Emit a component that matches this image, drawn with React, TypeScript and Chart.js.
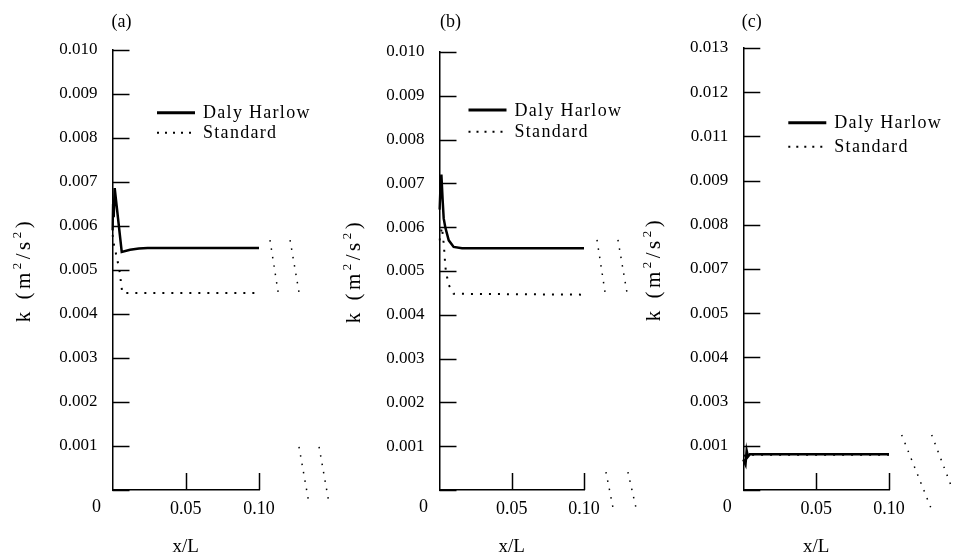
import React, { useEffect, useRef } from 'react';
import { Chart, registerables } from 'chart.js';

Chart.register(...registerables);

// ---------- data ----------
const SERIES_NAMES = ['Daly Harlow', 'Standard'];
const PANEL_NAMES = ['(a)', '(b)', '(c)'];
const ORIGIN_LABEL = '0';
// y-axis title "k (m²/s²)" split into normal / superscript runs
const Y_TITLE_PARTS: [string, boolean][] = [['k (m', false], ['2', true], ['/s', false], ['2', true], [')', false]];
const X_TITLE = 'x/L';

const X_TICK_LABELS = ['', '0.05', '0.10'];
const AB_Y_LABELS = ['', '0.001', '0.002', '0.003', '0.004', '0.005', '0.006', '0.007', '0.008', '0.009', '0.010'];
const C_Y_LABELS = ['', '0.001', '0.003', '0.004', '0.005', '0.007', '0.008', '0.009', '0.011', '0.012', '0.013'];
const AB_Y_MAX = 0.01;
const C_Y_MAX = 0.013;

// panel (a)
const A_DH_X = [0, 0.0004, 0.0008, 0.0015, 0.0063, 0.012, 0.018, 0.024, 0.1];
const A_DH_Y = [0.0059, 0.0065, 0.0062, 0.00686, 0.00541, 0.00546, 0.00549, 0.0055, 0.0055];
const A_ST_X = [0, 0.0012, 0.0029, 0.004, 0.0051, 0.0058, 0.0067, 0.1];
const A_ST_Y = [0.0058, 0.00553, 0.0053, 0.00511, 0.00492, 0.0047, 0.00448, 0.00448];
const A_BREAKS = [
  [0.1075, 0.00568, 0.1137, 0.00436],
  [0.1212, 0.00568, 0.128, 0.00436],
  [0.1273, 0.00098, 0.1341, -0.0003],
  [0.141, 0.00098, 0.1478, -0.0003],
];

// panel (b)
const B_DH_X = [0, 0.0007, 0.0013, 0.0022, 0.0029, 0.004, 0.0064, 0.0098, 0.0156, 0.1];
const B_DH_Y = [0.0064, 0.0069, 0.0072, 0.0066, 0.0062, 0.006, 0.0057, 0.00555, 0.00552, 0.00552];
const B_ST_X = [0, 0.0017, 0.0029, 0.0036, 0.004, 0.0052, 0.0064, 0.0098, 0.1];
const B_ST_Y = [0.0057, 0.006, 0.00563, 0.00533, 0.0051, 0.00487, 0.00468, 0.00448, 0.00446];
const B_BREAKS = [
  [0.109, 0.00571, 0.1152, 0.00438],
  [0.1235, 0.00571, 0.1304, 0.00438],
  [0.1152, 0.00041, 0.1201, -0.00041],
  [0.1304, 0.00041, 0.136, -0.00041],
];

// panel (c)
const C_DH_X = [0, 0.0015, 0.0023, 0.0032, 0.0045, 0.1];
const C_DH_Y = [0.0009, 0.00075, 0.00116, 0.00098, 0.00105, 0.00105];
const C_ST_X = [0, 0.003, 0.1];
const C_ST_Y = [0.001, 0.00104, 0.00104];
const C_BREAKS = [
  [0.1087, 0.00162, 0.1302, -0.00068],
  [0.1293, 0.00162, 0.1432, 0.00006],
];

// ---------- layout / style ----------
const FONT = 'Liberation Serif';

type PanelCfg = {
  name: string;
  left: number;
  width: number;
  axisWidth: number;
  padTop: number;
  padRight: number;
  yMax: number;
  yLabels: string[];
  dh: [number[], number[]];
  st: [number[], number[]];
  breaks: number[][];
  legendDx: number;
  legendDy: number;
  legendGap: number;
  labelDx: number;
};

const PANELS: PanelCfg[] = [
  {
    name: PANEL_NAMES[0], left: 0, width: 340, axisWidth: 112.5, padTop: 50, padRight: 81,
    yMax: AB_Y_MAX, yLabels: AB_Y_LABELS, dh: [A_DH_X, A_DH_Y], st: [A_ST_X, A_ST_Y], breaks: A_BREAKS,
    legendDx: 44.5, legendDy: 62.7, legendGap: 20, labelDx: -1,
  },
  {
    name: PANEL_NAMES[1], left: 330, width: 320, axisWidth: 109.5, padTop: 52, padRight: 66,
    yMax: AB_Y_MAX, yLabels: AB_Y_LABELS, dh: [B_DH_X, B_DH_Y], st: [B_ST_X, B_ST_Y], breaks: B_BREAKS,
    legendDx: 29, legendDy: 58, legendGap: 21.7, labelDx: 0.5,
  },
  {
    name: PANEL_NAMES[2], left: 630, width: 325, axisWidth: 113.3, padTop: 48, padRight: 66,
    yMax: C_Y_MAX, yLabels: C_Y_LABELS, dh: [C_DH_X, C_DH_Y], st: [C_ST_X, C_ST_Y], breaks: C_BREAKS,
    legendDx: 45, legendDy: 74.7, legendGap: 24, labelDx: -1.5,
  },
];

const overlayPlugin = {
  id: 'overlay',
  afterDraw(chart: any, _args: any, opts: any) {
    const ctx = chart.ctx as CanvasRenderingContext2D;
    const { left, top, bottom } = chart.chartArea;
    const xs = chart.scales.x;
    const ys = chart.scales.y;
    const line = (x1: number, y1: number, x2: number, y2: number) => {
      ctx.beginPath();
      ctx.moveTo(x1, y1);
      ctx.lineTo(x2, y2);
      ctx.stroke();
    };
    ctx.save();
    ctx.strokeStyle = '#000';
    ctx.lineCap = 'butt';
    ctx.lineWidth = 1.5;
    ys.ticks.forEach((t: any) => {
      const py = Math.round(ys.getPixelForValue(t.value)) + 0.5;
      line(left, py, left + 17, py);
    });
    xs.ticks.forEach((t: any) => {
      if (t.value === 0) return;
      const px = Math.round(xs.getPixelForValue(t.value)) + 0.5;
      line(px, bottom, px, bottom - 17);
    });
    ctx.fillStyle = '#000';
    ctx.font = `18px "${FONT}"`;
    ctx.textBaseline = 'middle';
    ctx.textAlign = 'left';
    ctx.fillText(opts.panel, left + opts.labelDx, 22);
    ctx.textAlign = 'center';
    ctx.fillText(opts.origin, left - 16, bottom + 17);

    // legend
    const legendSets = chart.data.datasets.filter((d: any) => d.label);
    legendSets.forEach((d: any, i: number) => {
      const y = top + opts.legendDy + i * opts.legendGap;
      const x0 = left + opts.legendDx;
      ctx.setLineDash(d.legendDash || []);
      ctx.lineWidth = d.legendWidth || 2;
      line(x0, y, x0 + 38, y);
      ctx.setLineDash([]);
      (ctx as any).letterSpacing = '1.3px';
      ctx.textAlign = 'left';
      ctx.fillText(d.label, x0 + 46, y + 1);
      (ctx as any).letterSpacing = '0px';
    });

    // y-axis title, rotated, with superscripts
    const parts: [string, boolean][] = opts.yTitle;
    const mainFont = `21px "${FONT}"`;
    const supFont = `13px "${FONT}"`;
    (ctx as any).letterSpacing = '3.5px';
    let total = 0;
    const widths = parts.map(([t, sup]) => {
      ctx.font = sup ? supFont : mainFont;
      const w = ctx.measureText(t).width;
      total += w;
      return w;
    });
    const cy = (top + bottom) / 2;
    ctx.translate(opts.yTitleX, cy);
    ctx.rotate(-Math.PI / 2);
    ctx.textAlign = 'left';
    ctx.textBaseline = 'alphabetic';
    let xPos = -total / 2;
    parts.forEach(([t, sup], i) => {
      ctx.font = sup ? supFont : mainFont;
      ctx.fillText(t, xPos, sup ? -2 : 7);
      xPos += widths[i];
    });
    ctx.restore();
  },
};

function Panel({ cfg }: { cfg: PanelCfg }) {
  const ref = useRef<HTMLCanvasElement>(null);
  useEffect(() => {
    if (!ref.current) return;
    const pts = (xs: number[], ys: number[]) => xs.map((x, i) => ({ x, y: ys[i] }));
    const datasets: any[] = [
      {
        label: SERIES_NAMES[0],
        data: pts(cfg.dh[0], cfg.dh[1]),
        borderColor: '#000',
        borderWidth: 2.5,
        pointRadius: 0,
        tension: 0,
        legendWidth: 3,
        legendDash: [],
      },
      {
        label: SERIES_NAMES[1],
        data: pts(cfg.st[0], cfg.st[1]),
        borderColor: '#000',
        borderWidth: 2,
        borderDash: [2, 7],
        pointRadius: 0,
        tension: 0,
        legendWidth: 2,
        legendDash: [2, 6],
      },
      ...cfg.breaks.map((b) => ({
        data: [{ x: b[0], y: b[1] }, { x: b[2], y: b[3] }],
        borderColor: '#000',
        borderWidth: 1.5,
        borderDash: [1.5, 7],
        pointRadius: 0,
        clip: false,
      })),
    ];
    const chart = new Chart(ref.current, {
      type: 'line',
      data: { datasets },
      plugins: [overlayPlugin as any],
      options: {
        animation: false,
        responsive: true,
        maintainAspectRatio: false,
        layout: { padding: { top: cfg.padTop, right: cfg.padRight, left: 0, bottom: 0 } },
        plugins: {
          legend: { display: false },
          tooltip: { enabled: false },
          overlay: {
            panel: cfg.name,
            origin: ORIGIN_LABEL,
            legendDx: cfg.legendDx,
            legendDy: cfg.legendDy,
            legendGap: cfg.legendGap,
            labelDx: cfg.labelDx,
            yTitle: Y_TITLE_PARTS,
            yTitleX: 23,
          },
        } as any,
        scales: {
          x: {
            type: 'linear',
            afterDataLimits: (s: any) => {
              s.min = 0;
              s.max = 0.1;
            },
            afterFit: (s: any) => {
              s.height = 68;
            },
            grid: { display: false, drawTicks: false, tickLength: 0 },
            border: { display: true, color: '#000', width: 1.5 },
            ticks: {
              stepSize: 0.05,
              padding: 8,
              color: '#000',
              font: { family: FONT, size: 18 },
              maxRotation: 0,
              callback: (_v: any, i: number) => X_TICK_LABELS[i],
            },
            title: {
              display: true,
              text: X_TITLE,
              color: '#000',
              font: { family: FONT, size: 19 },
              padding: { top: 0, bottom: 0 },
            },
          },
          y: {
            type: 'linear',
            min: 0,
            max: cfg.yMax,
            afterFit: (s: any) => {
              s.width = cfg.axisWidth;
            },
            grid: { display: false, drawTicks: false, tickLength: 0 },
            border: { display: true, color: '#000', width: 1.5 },
            ticks: {
              count: 11,
              padding: 15,
              color: '#000',
              font: { family: FONT, size: 17 },
              callback: (_v: any, i: number) => cfg.yLabels[i],
            },
            title: { display: false },
          },
        },
      },
    });
    return () => chart.destroy();
  }, [cfg]);
  return (
    <div style={{ position: 'absolute', left: cfg.left, top: 0, width: cfg.width, height: 558 }}>
      <canvas ref={ref} />
    </div>
  );
}

export default function App() {
  return (
    <div style={{ position: 'absolute', left: 0, top: 0, width: 955, height: 558, background: '#fff', overflow: 'hidden' }}>
      {PANELS.map((p) => (
        <Panel key={p.name} cfg={p} />
      ))}
    </div>
  );
}
